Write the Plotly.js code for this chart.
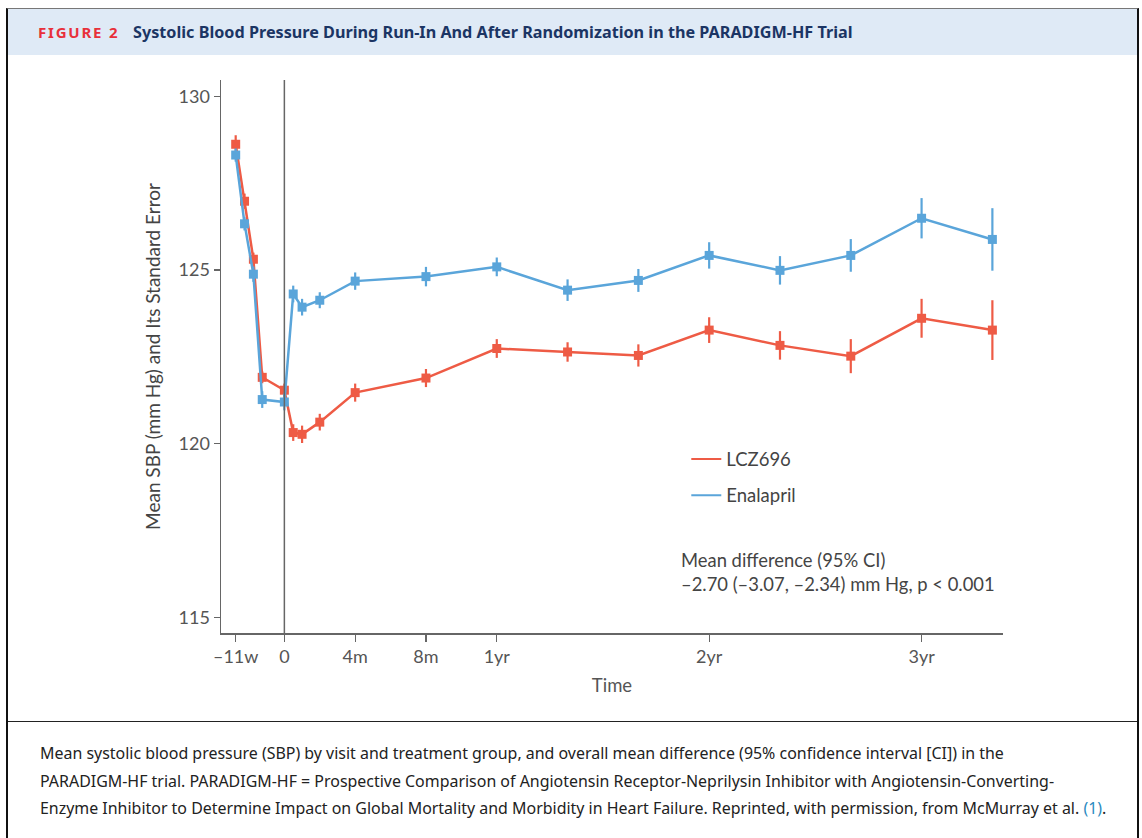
<!DOCTYPE html>
<html>
<head>
<meta charset="utf-8">
<script src="https://cdn.plot.ly/plotly-3.0.1.min.js"></script>
<style>
  html, body { margin: 0; padding: 0; background: #fff; width: 1142px; height: 838px; overflow: hidden; font-family: "Noto Sans", Lato, sans-serif; }
  #frame { position: absolute; left: 6px; top: 8px; width: 1129px; height: 840px; border-left: 2px solid #111; border-right: 2px solid #111; border-top: 1px solid #777; }
  #header { position: absolute; left: 0; top: 0; width: 1129px; height: 46px; background: #dfeaf6; }
  #fig { position: absolute; left: 30px; top: 13px; font-weight: 700; font-size: 15px; letter-spacing: 1.8px; color: #e8303a; }
  #ttl { position: absolute; left: 125px; top: 12px; font-weight: 700; font-size: 16.2px; color: #1b3564; }
  #sep { position: absolute; left: 0; top: 712px; width: 1129px; height: 0; border-top: 1.5px solid #222; }
  #cap { position: absolute; left: 32px; top: 731px; font-size: 15.95px; line-height: 27.5px; color: #222; }
  #cap span { color: #2a8ac0; }
  #chart { position: absolute; left: 0; top: 0; width: 1142px; height: 838px; z-index: 2; }
</style>
</head>
<body>
<div id="frame">
  <div id="header">
    <div id="fig">FIGURE 2</div>
    <div id="ttl">Systolic Blood Pressure During Run-In And After Randomization in the PARADIGM-HF Trial</div>
  </div>
  <div id="sep"></div>
  <div id="cap">Mean systolic blood pressure (SBP) by visit and treatment group, and overall mean difference (95% confidence interval [CI]) in the<br>PARADIGM-HF trial. PARADIGM-HF = Prospective Comparison of Angiotensin Receptor-Neprilysin Inhibitor with Angiotensin-Converting-<br>Enzyme Inhibitor to Determine Impact on Global Mortality and Morbidity in Heart Failure. Reprinted, with permission, from McMurray et al. <span>(1)</span>.</div>
</div>
<div id="chart"></div>
<script>
// Visit time in months from randomization
const months = [-2.75, -2.25, -1.75, -1.25, 0, 0.5, 1, 2, 4, 8, 12, 16, 20, 24, 28, 32, 36, 40];
// LCZ696 mean SBP and standard error
const lcz696 = [128.62, 126.98, 125.31, 121.91, 121.54, 120.32, 120.27, 120.62, 121.47, 121.89, 122.74, 122.64, 122.54, 123.27, 122.83, 122.52, 123.61, 123.27];
const lcz696SE = [0.26, 0.22, 0.19, 0.17, 0.19, 0.24, 0.25, 0.24, 0.26, 0.26, 0.27, 0.28, 0.32, 0.37, 0.41, 0.49, 0.56, 0.86];
// Enalapril mean SBP and standard error
const enalapril = [128.31, 126.33, 124.88, 121.27, 121.20, 124.31, 123.93, 124.13, 124.68, 124.81, 125.09, 124.42, 124.70, 125.42, 124.99, 125.42, 126.49, 125.88];
const enalaprilSE = [0.19, 0.19, 0.22, 0.24, 0.24, 0.24, 0.24, 0.23, 0.25, 0.28, 0.27, 0.31, 0.33, 0.38, 0.41, 0.47, 0.58, 0.90];
// Axis ticks
const xTickVals = [-2.75, 0, 4, 8, 12, 24, 36];
const xTickText = ['\u201311w', '0', '4m', '8m', '1yr', '2yr', '3yr'];
const yTickVals = [115, 120, 125, 130];

const RED = '#ee5b45', BLUE = '#5aa5da';
const FONT = 'Lato, "Noto Sans", sans-serif';

function series(name, y, se, color) {
  return {
    x: months, y: y, name: name, type: 'scatter', mode: 'lines+markers',
    line: { color: color, width: 2.5 },
    marker: { symbol: 'square', size: 9, color: color },
    error_y: { type: 'data', array: se, visible: true, color: color, thickness: 2.2, width: 0 },
    showlegend: false, hoverinfo: 'x+y'
  };
}
function legendItem(name, color) {
  return { x: [null], y: [null], name: name, type: 'scatter', mode: 'lines',
    line: { color: color, width: 2 }, legendgroup: name, showlegend: true };
}

const data = [
  series('LCZ696', lcz696, lcz696SE, RED),
  series('Enalapril', enalapril, enalaprilSE, BLUE),
  legendItem('LCZ696', RED),
  legendItem('Enalapril', BLUE)
];

const layout = {
  width: 1142, height: 838,
  margin: { l: 220.5, r: 139, t: 80, b: 205, pad: 0 },
  paper_bgcolor: 'rgba(0,0,0,0)', plot_bgcolor: 'rgba(0,0,0,0)',
  font: { family: FONT, color: '#555', size: 18 },
  xaxis: {
    range: [-3.58, 40.6], tickmode: 'array', tickvals: xTickVals, ticktext: xTickText,
    ticks: 'outside', ticklen: 7, tickwidth: 1.2, tickcolor: '#666',
    showline: true, linecolor: '#666', linewidth: 1.5, showgrid: false, zeroline: false,
    tickfont: { family: FONT, size: 18, color: '#555' },
    title: { text: 'Time', font: { family: FONT, size: 18.5, color: '#555' }, standoff: 13 }
  },
  yaxis: {
    range: [114.55, 130.47], tickmode: 'array', tickvals: yTickVals,
    ticks: 'outside', ticklen: 6, tickwidth: 1.2, tickcolor: '#666',
    showline: true, linecolor: '#666', linewidth: 1.5, showgrid: false, zeroline: false,
    tickfont: { family: FONT, size: 18, color: '#555' },
    title: { text: 'Mean SBP (mm Hg) and Its Standard Error', font: { family: FONT, size: 19, color: '#444' }, standoff: 13 }
  },
  shapes: [
    { type: 'line', xref: 'x', yref: 'paper', x0: 0, x1: 0, y0: 0, y1: 1, line: { color: '#666', width: 1.5 } }
  ],
  legend: {
    x: 0.595, y: 0.348, xanchor: 'left', yanchor: 'top', bgcolor: 'rgba(0,0,0,0)',
    font: { family: FONT, size: 18.5, color: '#444' }, traceorder: 'grouped', tracegroupgap: 9
  },
  annotations: [
    { xref: 'paper', yref: 'paper', x: 0.586, y: 0.155, xanchor: 'left', yanchor: 'top', align: 'left', showarrow: false,
      text: 'Mean difference (95% CI)<br>\u20132.70 (\u20133.07, \u20132.34) mm Hg, p < 0.001',
      font: { family: FONT, size: 18.4, color: '#444' } }
  ]
};

Plotly.newPlot('chart', data, layout, { displayModeBar: false, staticPlot: true });
</script>
</body>
</html>
